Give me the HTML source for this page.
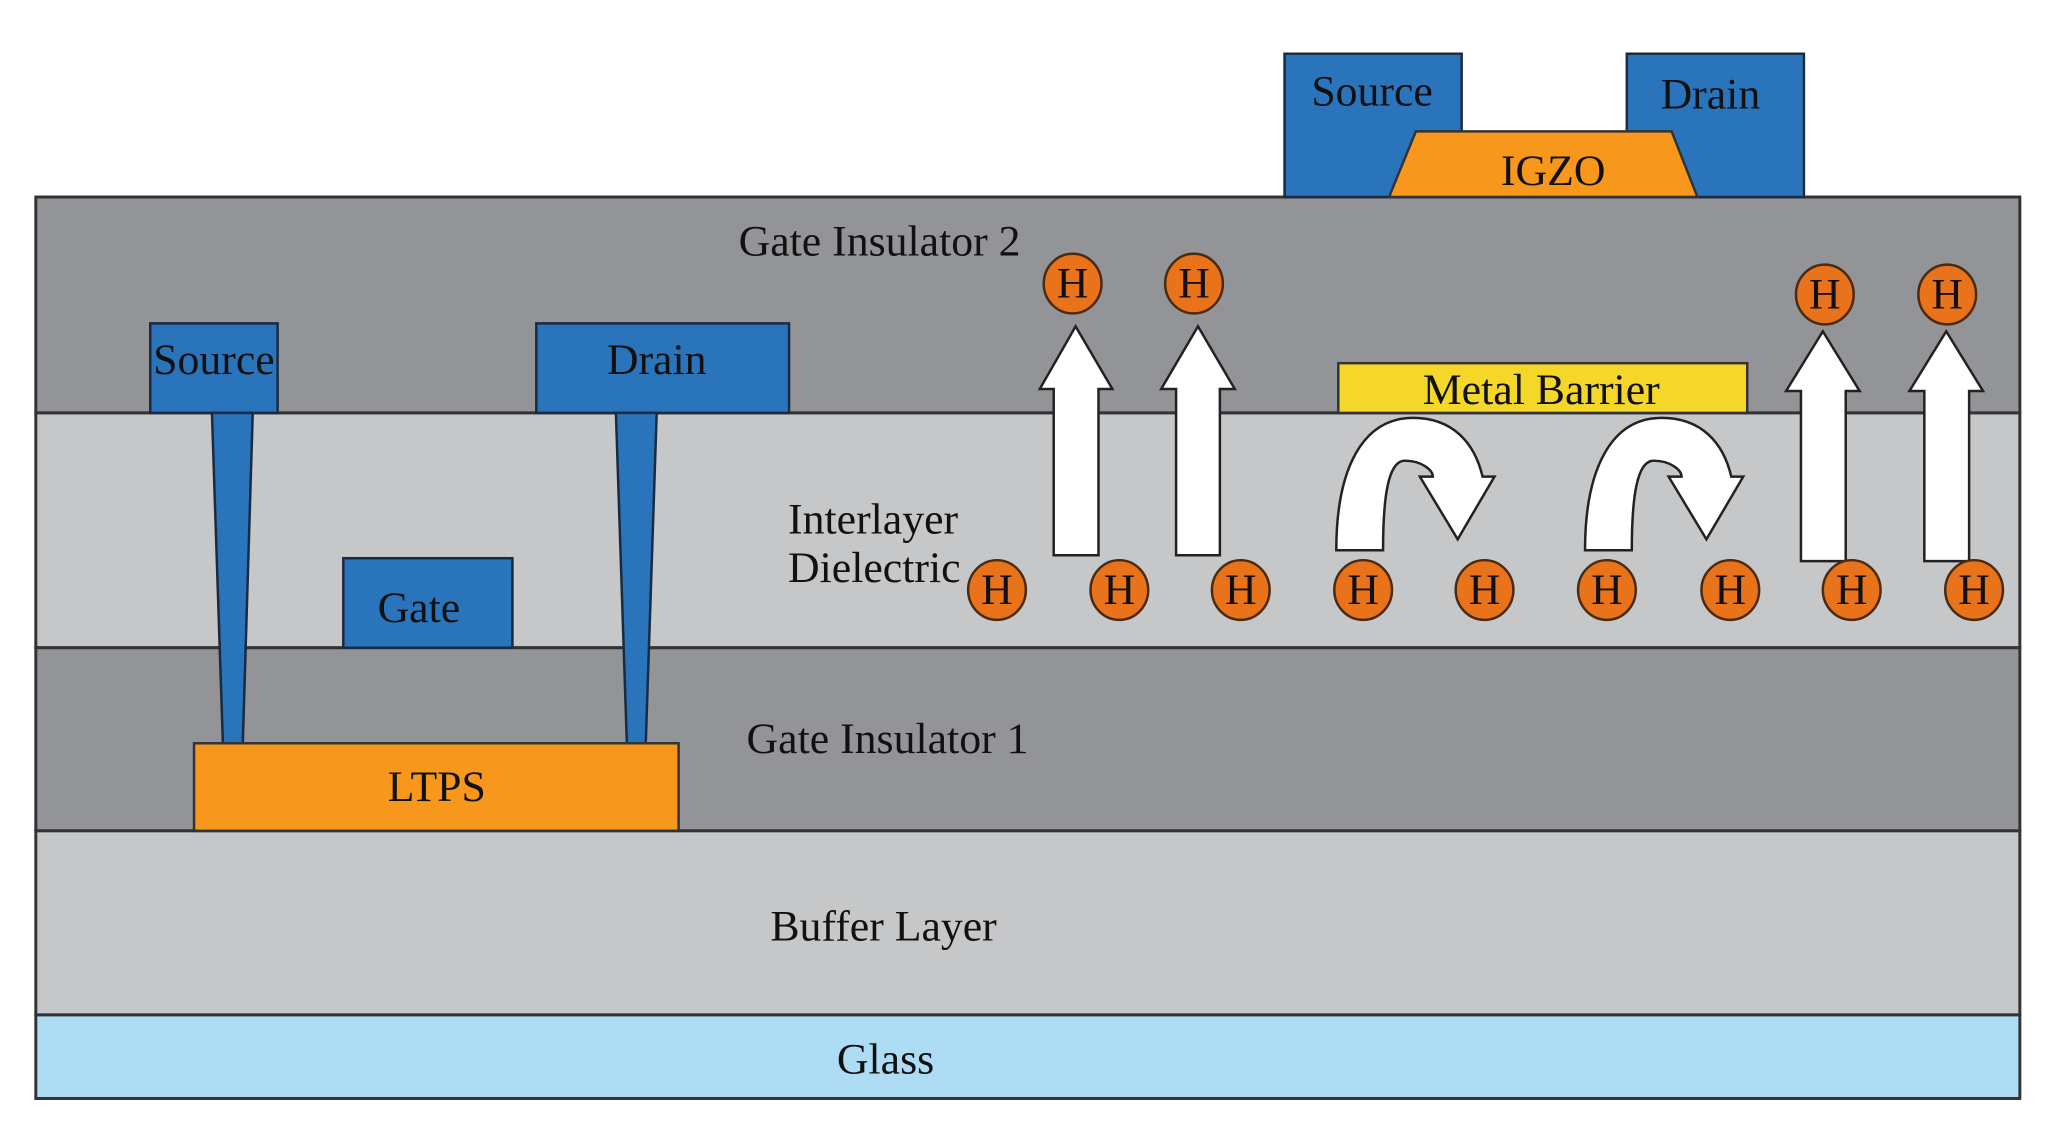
<!DOCTYPE html>
<html><head><meta charset="utf-8"><style>
html,body{margin:0;padding:0;background:#fff;}
svg text{font-family:"Liberation Serif",serif;font-size:44px;fill:#111;}
</style></head><body>
<svg width="2055" height="1135" viewBox="0 0 2055 1135" xmlns="http://www.w3.org/2000/svg">
<g transform="scale(0.995)">
<g stroke="#333" stroke-width="3">
<rect x="36" y="198" width="1994" height="217" fill="#939497"/>
<rect x="36" y="415" width="1994" height="236" fill="#c6c7c9"/>
<rect x="36" y="651" width="1994" height="184" fill="#939497"/>
<rect x="36" y="835" width="1994" height="185" fill="#c6c7c9"/>
<rect x="36" y="1020" width="1994" height="84" fill="#aedcf5"/>
</g>
<g stroke="#1a2a40" stroke-width="2.5" fill="#2a74bb">
<rect x="1291" y="54" width="178" height="144"/>
<rect x="1635" y="54" width="178" height="144"/>
<rect x="151" y="325" width="128" height="90"/>
<rect x="539" y="325" width="254" height="90"/>
<polygon points="213,415 254,415 244,747 224,747"/>
<polygon points="619,415 660,415 649,747 630,747"/>
<rect x="345" y="561" width="170" height="90"/>
</g>
<polygon points="1423,132 1680,132 1706,198 1396,198" fill="#f7981d" stroke="#333" stroke-width="2.5"/>
<rect x="195" y="747" width="487" height="88" fill="#f7981d" stroke="#333" stroke-width="2.5"/>
<rect x="1345" y="365" width="411" height="50" fill="#f5d72a" stroke="#333" stroke-width="2.5"/>
<g fill="#fff" stroke="#222" stroke-width="2.5">
<polygon points="1059,558 1104,558 1104,391 1118,391 1081,328 1045,391 1059,391"/>
<polygon points="1182,558 1226,558 1226,391 1241,391 1204,328 1167,391 1182,391"/>
<polygon points="1810,564 1855,564 1855,393 1869,393 1832,333 1795,393 1810,393"/>
<polygon points="1934,564 1979,564 1979,393 1993,393 1956,333 1919,393 1934,393"/>
<path d="M1343,553 L1390,553 C1390,500 1395,463 1412,463 C1428,463 1440,472 1440,479 L1427,479 L1465,542 L1502,479 L1490,479 C1482,445 1460,420 1420,420 C1370,420 1343,470 1343,553 Z"/>
<path transform="translate(250,0)" d="M1343,553 L1390,553 C1390,500 1395,463 1412,463 C1428,463 1440,472 1440,479 L1427,479 L1465,542 L1502,479 L1490,479 C1482,445 1460,420 1420,420 C1370,420 1343,470 1343,553 Z"/>
</g>
<g fill="#e8731a" stroke="#4a2a10" stroke-width="2.5">
<ellipse cx="1002" cy="593" rx="29" ry="30"/>
<ellipse cx="1125" cy="593" rx="29" ry="30"/>
<ellipse cx="1247" cy="593" rx="29" ry="30"/>
<ellipse cx="1370" cy="593" rx="29" ry="30"/>
<ellipse cx="1492" cy="593" rx="29" ry="30"/>
<ellipse cx="1615" cy="593" rx="29" ry="30"/>
<ellipse cx="1739" cy="593" rx="29" ry="30"/>
<ellipse cx="1861" cy="593" rx="29" ry="30"/>
<ellipse cx="1984" cy="593" rx="29" ry="30"/>
<ellipse cx="1078" cy="285" rx="29" ry="30"/>
<ellipse cx="1200" cy="285" rx="29" ry="30"/>
<ellipse cx="1834" cy="296" rx="29" ry="30"/>
<ellipse cx="1957" cy="296" rx="29" ry="30"/>
</g>
<g text-anchor="middle">
<text x="1002" y="607">H</text><text x="1125" y="607">H</text><text x="1247" y="607">H</text>
<text x="1370" y="607">H</text><text x="1492" y="607">H</text><text x="1615" y="607">H</text>
<text x="1739" y="607">H</text><text x="1861" y="607">H</text><text x="1984" y="607">H</text>
<text x="1078" y="299">H</text><text x="1200" y="299">H</text>
<text x="1834" y="310">H</text><text x="1957" y="310">H</text>
<text x="1379" y="106">Source</text>
<text x="1719" y="109">Drain</text>
<text x="1561" y="186">IGZO</text>
<text x="884" y="257">Gate Insulator 2</text>
<text x="215" y="376">Source</text>
<text x="660" y="376">Drain</text>
<text x="421" y="625">Gate</text>
<text x="439" y="805">LTPS</text>
<text x="1549" y="406">Metal Barrier</text>
<text x="892" y="757">Gate Insulator 1</text>
<text x="888" y="945">Buffer Layer</text>
<text x="890" y="1079">Glass</text>
</g>
<text x="792" y="536">Interlayer</text>
<text x="792" y="585">Dielectric</text>
</g>
</svg>
</body></html>
